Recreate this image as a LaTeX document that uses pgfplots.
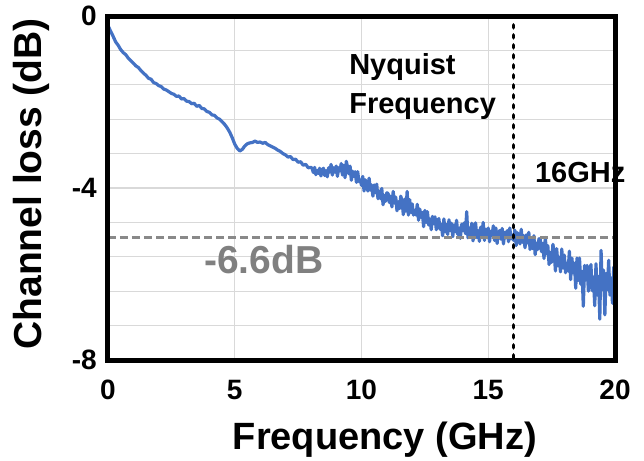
\documentclass[border=0pt]{standalone}
\usepackage{fontspec}
\setmainfont{Liberation Sans}
\usepackage{pgfplots}
\usepackage{pgfplotstable}
\pgfplotsset{compat=1.18}

\definecolor{lossblue}{RGB}{68,114,196}
\definecolor{gridgray}{RGB}{217,217,217}
\definecolor{refgray}{RGB}{137,137,137}
\definecolor{labelgray}{RGB}{128,128,128}

% Measured channel loss (dB) versus frequency (GHz)
\pgfplotstableread{
f db
0.0 -0.22
0.1 -0.35
0.2 -0.47
0.3 -0.60
0.4 -0.68
0.5 -0.78
0.6 -0.85
0.7 -0.90
0.8 -0.98
0.9 -1.04
1.0 -1.10
1.1 -1.16
1.2 -1.20
1.3 -1.27
1.4 -1.33
1.5 -1.38
1.6 -1.45
1.7 -1.47
1.8 -1.55
1.9 -1.57
2.0 -1.62
2.1 -1.64
2.2 -1.70
2.3 -1.72
2.4 -1.76
2.5 -1.80
2.6 -1.82
2.7 -1.87
2.8 -1.86
2.9 -1.93
3.0 -1.92
3.1 -1.98
3.2 -1.99
3.3 -2.04
3.4 -2.03
3.5 -2.10
3.6 -2.08
3.7 -2.15
3.8 -2.16
3.9 -2.22
4.0 -2.24
4.1 -2.30
4.2 -2.31
4.3 -2.37
4.4 -2.40
4.5 -2.46
4.6 -2.52
4.7 -2.60
4.8 -2.70
4.9 -2.83
5.0 -2.98
5.1 -3.08
5.2 -3.14
5.3 -3.10
5.4 -3.02
5.5 -2.97
5.6 -2.95
5.7 -2.94
5.8 -2.91
5.9 -2.94
6.0 -2.93
6.1 -2.96
6.2 -2.94
6.3 -2.99
6.4 -3.02
6.5 -3.05
6.6 -3.08
6.7 -3.12
6.8 -3.15
6.9 -3.20
7.0 -3.23
7.1 -3.28
7.2 -3.27
7.3 -3.34
7.4 -3.33
7.5 -3.40
7.6 -3.39
7.7 -3.47
7.8 -3.45
7.9 -3.53
8.0 -3.52
8.05 -3.54
8.10 -3.64
8.15 -3.52
8.20 -3.69
8.25 -3.59
8.30 -3.66
8.35 -3.54
8.40 -3.72
8.45 -3.59
8.50 -3.54
8.55 -3.71
8.60 -3.60
8.65 -3.74
8.70 -3.53
8.75 -3.63
8.80 -3.45
8.85 -3.70
8.90 -3.53
8.95 -3.63
9.00 -3.49
9.05 -3.73
9.10 -3.53
9.15 -3.60
9.20 -3.43
9.25 -3.70
9.30 -3.47
9.35 -3.76
9.40 -3.38
9.45 -3.51
9.50 -3.67
9.55 -3.49
9.60 -3.82
9.65 -3.61
9.70 -3.73
9.75 -3.62
9.80 -3.87
9.85 -3.62
9.90 -3.85
9.95 -3.81
10.00 -3.94
10.05 -3.73
10.10 -4.07
10.15 -3.81
10.20 -3.91
10.25 -4.07
10.30 -3.77
10.35 -4.05
10.40 -3.93
10.45 -4.19
10.50 -3.93
10.55 -4.11
10.60 -3.91
10.65 -4.25
10.70 -4.07
10.75 -4.25
10.80 -4.01
10.85 -4.39
10.90 -4.17
10.95 -4.31
11.00 -4.11
11.05 -4.13
11.10 -4.34
11.15 -4.19
11.20 -4.44
11.25 -4.08
11.30 -4.35
11.35 -4.21
11.40 -4.53
11.45 -4.32
11.50 -4.48
11.55 -4.19
11.60 -4.31
11.65 -4.62
11.70 -4.26
11.75 -4.54
11.80 -4.08
11.85 -4.63
11.90 -4.27
11.95 -4.57
12.00 -4.37
12.05 -4.63
12.10 -4.52
12.15 -4.63
12.20 -4.38
12.25 -4.75
12.30 -4.49
12.35 -4.68
12.40 -4.57
12.45 -4.90
12.50 -4.52
12.55 -4.80
12.60 -4.55
12.65 -4.86
12.70 -4.72
12.75 -4.97
12.80 -4.66
12.85 -4.83
12.90 -4.67
12.95 -4.97
13.00 -4.78
13.05 -4.71
13.10 -4.96
13.15 -4.84
13.20 -5.11
13.25 -4.72
13.30 -5.02
13.35 -4.85
13.40 -5.08
13.45 -4.74
13.50 -4.99
13.55 -4.82
13.60 -5.13
13.65 -4.86
13.70 -5.02
13.75 -4.75
13.80 -5.08
13.85 -4.93
13.90 -5.17
13.95 -4.84
14.00 -4.99
14.05 -4.81
14.10 -5.06
14.15 -4.55
14.20 -5.16
14.25 -4.93
14.30 -5.10
14.35 -4.82
14.40 -5.23
14.45 -4.92
14.50 -4.81
14.55 -5.15
14.60 -4.99
14.65 -5.24
14.70 -4.91
14.75 -5.08
14.80 -4.80
14.85 -5.22
14.90 -4.96
14.95 -5.14
15.00 -4.93
15.05 -5.25
15.10 -5.01
15.15 -5.10
15.20 -4.88
15.25 -5.22
15.30 -4.93
15.35 -5.29
15.40 -5.05
15.45 -4.99
15.50 -5.19
15.55 -4.94
15.60 -5.30
15.65 -5.03
15.70 -5.15
15.75 -4.99
15.80 -5.25
15.85 -4.93
15.90 -5.18
15.95 -5.10
16.00 -5.22
16.05 -4.98
16.10 -5.34
16.15 -5.04
16.20 -5.14
16.25 -5.30
16.30 -4.96
16.35 -5.26
16.40 -5.11
16.45 -5.39
16.50 -5.09
16.55 -5.28
16.60 -5.03
16.65 -5.43
16.70 -5.20
16.75 -5.41
16.80 -5.11
16.85 -5.55
16.90 -5.28
16.95 -5.43
17.00 -5.18
17.05 -5.19
17.10 -5.48
17.15 -5.29
17.20 -5.64
17.25 -5.15
17.30 -5.53
17.35 -5.34
17.40 -5.78
17.45 -5.50
17.50 -5.73
17.55 -5.31
17.60 -5.49
17.65 -5.93
17.70 -5.41
17.75 -5.81
17.80 -5.61
17.85 -5.95
17.90 -5.42
17.95 -5.86
18.00 -5.56
18.05 -5.97
18.10 -5.75
18.15 -5.93
18.20 -5.47
18.25 -6.13
18.30 -5.63
18.35 -5.97
18.40 -5.75
18.45 -6.33
18.50 -5.63
18.55 -6.15
18.60 -5.63
18.65 -6.24
18.70 -5.94
18.75 -6.75
18.80 -5.80
18.85 -6.14
18.90 -5.80
18.95 -6.40
19.00 -6.02
19.05 -5.78
19.10 -6.39
19.15 -6.07
19.20 -6.74
19.25 -5.76
19.30 -6.49
19.35 -6.06
19.40 -7.05
19.45 -5.45
19.50 -6.36
19.55 -5.91
19.60 -6.95
19.65 -5.99
19.70 -6.36
19.75 -5.68
19.80 -6.49
19.85 -6.09
19.90 -6.68
19.95 -5.84
20.00 -6.21
}\losstable

\begin{document}
\begin{tikzpicture}
\path[use as bounding box] (-108pt,-100pt) rectangle (536pt,360pt);
\begin{axis}[
  at={(0pt,0pt)}, anchor=south west,
  scale only axis, width=507pt, height=344pt,
  xmin=0, xmax=20, ymin=-8, ymax=0,
  clip mode=individual,
  xtick={0,5,10,15,20}, xticklabels={0,5,10,15,20},
  ytick={-8,-4,0}, yticklabels={-8,-4,0},
  minor ytick={-7.2,-6.4,-5.6,-4.8,-3.2,-2.4,-1.6,-0.8},
  grid=both,
  major grid style={gridgray, line width=1.2pt},
  minor grid style={gridgray, line width=1.2pt},
  major tick length=0pt, minor tick length=0pt,
  axis line style={line width=5pt, black},
  tick label style={font=\fontsize{28}{30}\selectfont\bfseries},
  xticklabel style={inner sep=0pt, anchor=north, yshift=-20pt},
  yticklabel style={inner sep=0pt, anchor=east, xshift=-11pt},
  xlabel={Frequency (GHz)},
  ylabel={Channel loss (dB)},
  every axis x label/.style={at={(axis description cs:0.546,0)}, anchor=base,
    yshift=-89pt, font=\fontsize{38}{40}\selectfont\bfseries},
  every axis y label/.style={at={(axis description cs:-0.132,0.512)}, rotate=90,
    anchor=base, font=\fontsize{39}{40}\selectfont\bfseries},
]
\addplot[lossblue, line width=3.2pt, line join=round] table[x=f, y=db] {\losstable};
% reference loss level
\addplot[refgray, line width=3pt, dash pattern=on 8pt off 4pt] coordinates {(0,-5.15) (20,-5.15)};
% Nyquist frequency marker
\addplot[black, line width=3.4pt, line cap=round, dash pattern=on 3pt off 7pt] coordinates {(16,-7.95) (16,-0.05)};
\node[anchor=base west, inner sep=0pt, font=\fontsize{29}{30}\selectfont\bfseries] at (axis cs:9.51,-1.35) {Nyquist};
\node[anchor=base west, inner sep=0pt, font=\fontsize{29}{30}\selectfont\bfseries] at (axis cs:9.51,-2.26) {Frequency};
\node[anchor=base west, inner sep=0pt, font=\fontsize{29}{30}\selectfont\bfseries] at (axis cs:16.84,-3.88) {16GHz};
\node[anchor=base west, inner sep=0pt, text=labelgray, font=\fontsize{39}{40}\selectfont\bfseries] at (axis cs:3.79,-5.98) {-6.6dB};
% heavy frame around the plot area
\draw[black, line width=5pt, line join=miter] (rel axis cs:0,0) rectangle (rel axis cs:1,1);
\end{axis}
\end{tikzpicture}
\end{document}
